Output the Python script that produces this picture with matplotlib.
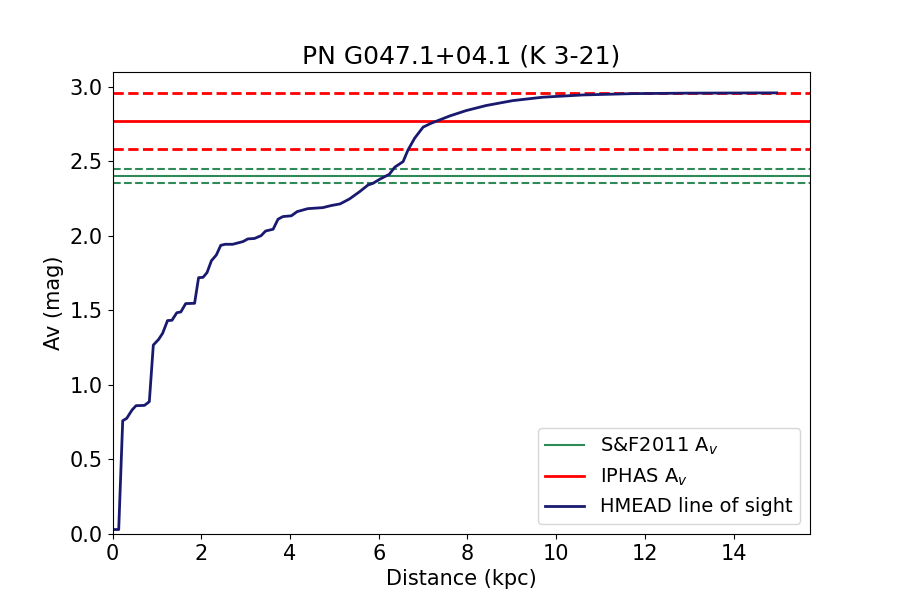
import numpy as np
import matplotlib
matplotlib.use("Agg")
import matplotlib.pyplot as plt

# HMEAD line of sight (distance in kpc, Av in mag)
dist = [0.0, 0.14, 0.23, 0.32, 0.44, 0.53, 0.72, 0.83, 0.92, 1.04, 1.13, 1.24,
        1.34, 1.45, 1.54, 1.65, 1.85, 1.94, 2.04, 2.13, 2.23, 2.34, 2.44, 2.54,
        2.71, 2.94, 3.05, 3.20, 3.35, 3.45, 3.62, 3.73, 3.84, 4.03, 4.16, 4.40,
        4.74, 4.93, 5.13, 5.34, 5.57, 5.76, 5.87, 6.02, 6.24, 6.36, 6.55, 6.66,
        6.81, 7.00, 7.18, 7.60, 7.97, 8.42, 9.02, 9.70, 10.6, 11.73, 12.9, 14.97]
av = [0.03, 0.03, 0.76, 0.776, 0.832, 0.861, 0.863, 0.888, 1.268, 1.306, 1.347, 1.432,
      1.434, 1.485, 1.49, 1.546, 1.548, 1.72, 1.722, 1.754, 1.834, 1.872, 1.937, 1.944,
      1.944, 1.962, 1.98, 1.983, 2.002, 2.033, 2.045, 2.112, 2.13, 2.135, 2.163, 2.183,
      2.19, 2.204, 2.215, 2.248, 2.297, 2.342, 2.353, 2.38, 2.414, 2.461, 2.499, 2.577,
      2.656, 2.73, 2.756, 2.805, 2.841, 2.875, 2.908, 2.931, 2.946, 2.955, 2.958, 2.96]

# S&F2011 and IPHAS extinction with errors
sf_av, sf_err = 2.405, 0.047
iphas_av, iphas_err = 2.77, 0.19

plt.rcParams['font.size'] = 15
fig, ax = plt.subplots(figsize=(9, 6), dpi=100)

ax.axhline(sf_av, color='seagreen', lw=1.5, label='S&F2011 A$_v$')
ax.axhline(sf_av + sf_err, color='seagreen', lw=1.5, ls='--')
ax.axhline(sf_av - sf_err, color='seagreen', lw=1.5, ls='--')

ax.axhline(iphas_av, color='red', lw=2, label='IPHAS A$_v$')
ax.axhline(iphas_av + iphas_err, color='red', lw=2, ls='--')
ax.axhline(iphas_av - iphas_err, color='red', lw=2, ls='--')

ax.plot(dist, av, color='midnightblue', lw=2, label='HMEAD line of sight')

ax.set_xlim(0, 15.72)
ax.set_ylim(0, 3.1)
ax.set_xlabel('Distance (kpc)')
ax.set_ylabel('Av (mag)')
ax.set_title('PN G047.1+04.1 (K 3-21)', fontsize=18)
ax.legend(loc='lower right', fontsize=14)

fig.savefig('out.png')
